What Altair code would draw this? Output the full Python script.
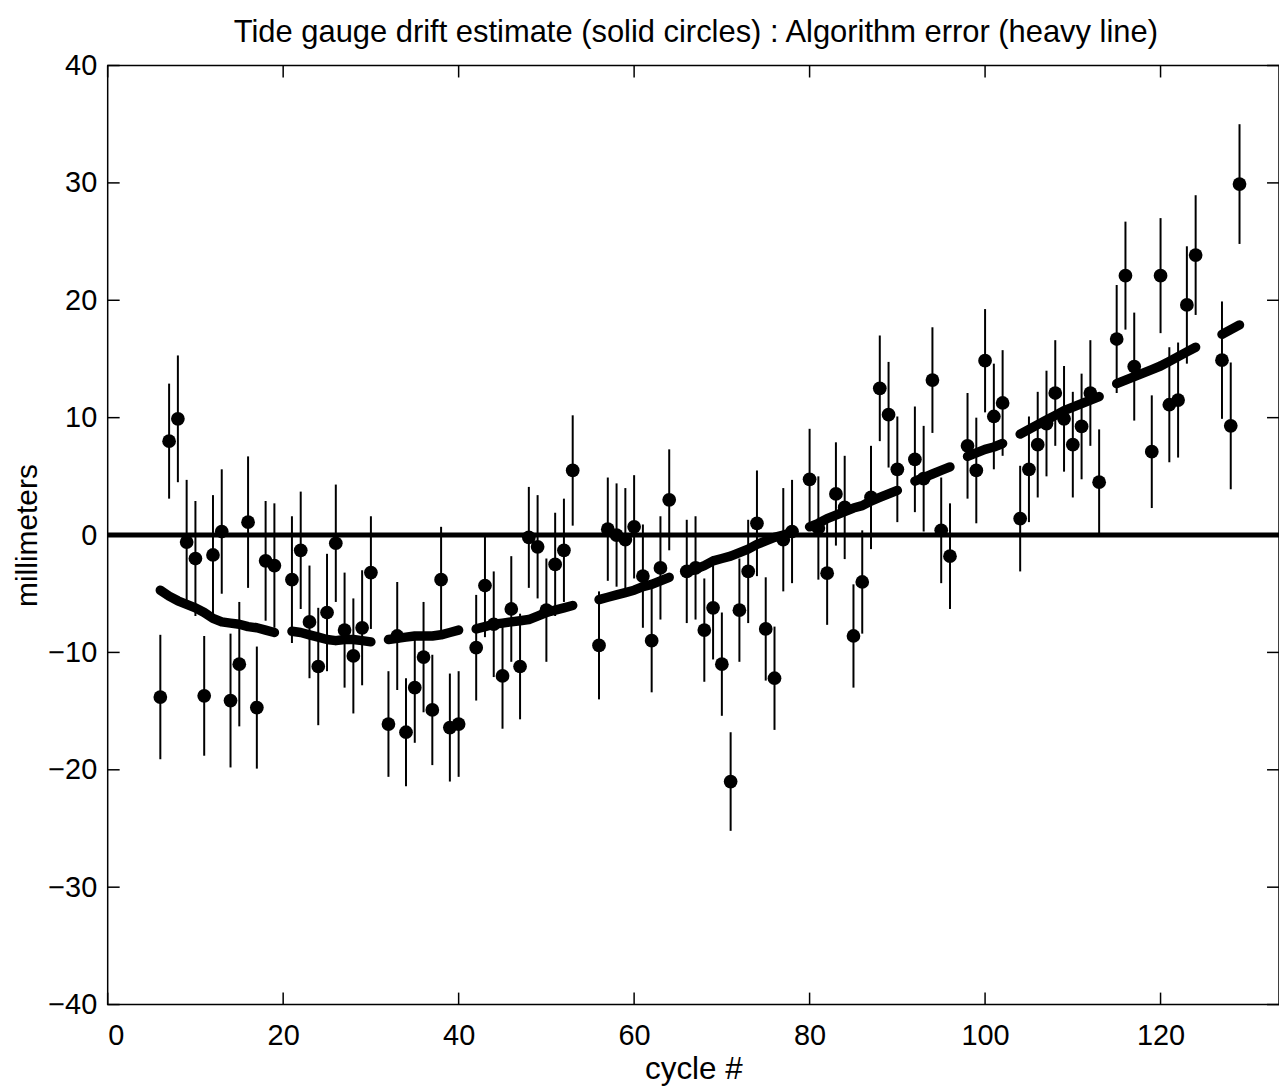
import altair as alt
import pandas as pd

# Tide gauge drift estimates (solid circles) with error bars
cycles = [6, 7, 8, 9, 10, 11, 12, 13, 14, 15, 16, 17, 18, 19,
          21, 22, 23, 24, 25, 26, 27, 28, 29, 30,
          32, 33, 34, 35, 36, 37, 38, 39, 40,
          42, 43, 44, 45, 46, 47, 48, 49, 50, 51, 52, 53,
          56, 57, 58, 59, 60, 61, 62, 63, 64,
          66, 67, 68, 69, 70, 71, 72, 73, 74, 75, 76, 77, 78,
          80, 81, 82, 83, 84, 85, 86, 87, 88, 89, 90,
          92, 93, 94, 95, 96,
          98, 99, 100, 101, 102,
          104, 105, 106, 107, 108, 109, 110, 111, 112, 113,
          115, 116, 117, 119, 120, 121, 122, 123, 124,
          127, 128, 129]
drift = [-13.8, 8.0, 9.9, -0.6, -2.0, -13.7, -1.7, 0.3, -14.1, -11.0, 1.1, -14.7, -2.2, -2.6,
         -3.8, -1.3, -7.4, -11.2, -6.6, -0.7, -8.1, -10.3, -7.9, -3.2,
         -16.1, -8.6, -16.8, -13.0, -10.4, -14.9, -3.8, -16.4, -16.1,
         -9.6, -4.3, -7.6, -12.0, -6.3, -11.2, -0.2, -1.0, -6.4, -2.5, -1.3, 5.5,
         -9.4, 0.5, 0.0, -0.4, 0.7, -3.5, -9.0, -2.8, 3.0,
         -3.1, -2.8, -8.1, -6.2, -11.0, -21.0, -6.4, -3.1, 1.0, -8.0, -12.2, -0.4, 0.3,
         4.75, 0.6, -3.25, 3.5, 2.35, -8.6, -4.0, 3.2, 12.5, 10.25, 5.6,
         6.45, 4.8, 13.2, 0.4, -1.8,
         7.6, 5.5, 14.85, 10.1, 11.25,
         1.4, 5.6, 7.7, 9.5, 12.1, 9.9, 7.7, 9.25, 12.1, 4.5,
         16.7, 22.1, 14.35, 7.1, 22.1, 11.1, 11.5, 19.6, 23.85,
         14.9, 9.3, 29.9]
err = [5.3, 4.9, 5.4, 5.3, 4.9, 5.1, 5.1, 5.3, 5.7, 5.3, 5.6, 5.2, 5.1, 5.3,
       5.4, 5.0, 4.8, 5.0, 5.0, 5.0, 4.9, 4.9, 4.9, 4.8,
       4.5, 4.6, 4.6, 4.7, 4.7, 4.7, 4.5, 4.6, 4.5,
       4.5, 4.4, 4.5, 4.5, 4.5, 4.5, 4.3, 4.4, 4.4, 4.4, 4.4, 4.7,
       4.6, 4.4, 4.4, 4.4, 4.4, 4.4, 4.4, 4.4, 4.3,
       4.4, 4.4, 4.4, 4.4, 4.4, 4.2, 4.4, 4.4, 4.5, 4.4, 4.4, 4.4, 4.4,
       4.3, 4.4, 4.4, 4.4, 4.4, 4.4, 4.4, 4.4, 4.5, 4.5, 4.5,
       4.5, 4.5, 4.5, 4.5, 4.5,
       4.5, 4.5, 4.4, 4.5, 4.5,
       4.5, 4.5, 4.5, 4.5, 4.5, 4.5, 4.5, 4.5, 4.5, 4.5,
       4.6, 4.6, 4.6, 4.8, 4.9, 4.9, 4.9, 5.0, 5.1,
       5.0, 5.4, 5.1]

# Algorithm error (heavy dashed line), read per cycle
line_cycles = [6, 7, 8, 9, 10, 11, 12, 13, 14, 15, 16, 17, 18, 19,
               21, 22, 23, 24, 25, 26, 27, 28, 29, 30,
               32, 33, 34, 35, 36, 37, 38, 39, 40,
               42, 43, 44, 45, 46, 47, 48, 49, 50, 51, 52, 53,
               56, 57, 58, 59, 60, 61, 62, 63, 64,
               66, 67, 68, 69, 70, 71, 72, 73, 74, 75, 76, 77, 78,
               80, 81, 82, 83, 84, 85, 86, 87, 88, 89, 90,
               92, 93, 94, 95, 96,
               98, 99, 100, 101, 102,
               104, 105, 106, 107, 108, 109, 110, 111, 112, 113,
               115, 116, 117, 118, 119, 120, 121, 122, 123, 124,
               127, 128, 129]
line_vals = [-4.7, -5.2, -5.6, -5.9, -6.2, -6.6, -7.1, -7.4, -7.5, -7.6, -7.8, -7.9, -8.1, -8.3,
             -8.2, -8.3, -8.5, -8.7, -8.9, -9.0, -8.9, -8.9, -9.0, -9.1,
             -8.9, -8.8, -8.7, -8.6, -8.6, -8.6, -8.5, -8.3, -8.1,
             -8.0, -7.8, -7.6, -7.5, -7.4, -7.3, -7.2, -6.9, -6.6, -6.4, -6.2, -6.0,
             -5.5, -5.3, -5.1, -4.9, -4.7, -4.4, -4.2, -3.9, -3.6,
             -3.2, -2.9, -2.6, -2.2, -2.0, -1.8, -1.5, -1.2, -0.8, -0.5, -0.2, 0.0, 0.2,
             0.7, 1.0, 1.4, 1.7, 2.0, 2.3, 2.5, 2.9, 3.2, 3.5, 3.8,
             4.6, 4.9, 5.2, 5.5, 5.8,
             6.7, 7.0, 7.3, 7.5, 7.8,
             8.6, 9.0, 9.4, 9.8, 10.2, 10.6, 10.9, 11.2, 11.5, 11.8,
             12.9, 13.2, 13.5, 13.8, 14.1, 14.4, 14.8, 15.2, 15.6, 16.0,
             17.1, 17.5, 17.9]

x_ticks = [0, 20, 40, 60, 80, 100, 120]
y_ticks = [-40, -30, -20, -10, 0, 10, 20, 30, 40]
title_text = ["Tide gauge drift estimate (solid circles) : Algorithm error (heavy line)"]

W, H = 1175, 942
FONT = "Liberation Sans"

pts = pd.DataFrame({"cycle": cycles, "mm": drift, "err": err})
pts["lo"] = pts["mm"] - pts["err"]
pts["hi"] = pts["mm"] + pts["err"]

seg = []
s = 0
for i, c in enumerate(line_cycles):
    if i > 0 and c - line_cycles[i - 1] > 1:
        s += 1
    seg.append(s)
line_df = pd.DataFrame({"cycle": line_cycles, "mm": line_vals, "seg": seg})

xt = pd.DataFrame({"cycle": x_ticks})
yt = pd.DataFrame({"mm": y_ticks})

xscale = alt.Scale(domain=[0, 133.5], nice=False, zero=False)
yscale = alt.Scale(domain=[-40, 40], nice=False, zero=False)
xaxis = alt.Axis(values=x_ticks, title="cycle #", grid=False, domain=False, ticks=False,
                 tickSize=0, labelPadding=17, labelFontSize=29, titleFontSize=31.5,
                 titleFontWeight="normal", titlePadding=3, labelColor="black",
                 titleColor="black", labelFont=FONT, titleFont=FONT)
yaxis = alt.Axis(values=y_ticks, title="millimeters", grid=False, domain=False, ticks=False,
                 tickSize=0, labelPadding=11, labelFontSize=29, titleFontSize=30,
                 titleFontWeight="normal", titlePadding=5, labelColor="black",
                 titleColor="black", labelFont=FONT, titleFont=FONT)

X = lambda f="cycle": alt.X(f"{f}:Q", scale=xscale, axis=xaxis)
Y = lambda f="mm": alt.Y(f"{f}:Q", scale=yscale, axis=yaxis)

zero = alt.Chart(pd.DataFrame({"mm": [0]})).mark_rule(color="black", strokeWidth=5).encode(
    y=Y(), x=alt.value(0), x2=alt.value(W))

bars = alt.Chart(pts).mark_rule(color="black", strokeWidth=2).encode(
    x=X(), y=Y("lo"), y2="hi")

dots = alt.Chart(pts).mark_circle(color="black", size=190, opacity=1).encode(
    x=X(), y=Y())

heavy = alt.Chart(line_df).mark_line(color="black", strokeWidth=9.5, strokeCap="round",
                                     strokeJoin="round").encode(
    x=X(), y=Y(), detail="seg:N")

tb = alt.Chart(xt).mark_rule(color="black", strokeWidth=1.5).encode(
    x=X(), y=alt.value(H), y2=alt.value(H - 12))
tt = alt.Chart(xt).mark_rule(color="black", strokeWidth=1.5).encode(
    x=X(), y=alt.value(0), y2=alt.value(12))
tl = alt.Chart(yt).mark_rule(color="black", strokeWidth=1.5).encode(
    y=Y(), x=alt.value(0), x2=alt.value(12))
tr = alt.Chart(yt).mark_rule(color="black", strokeWidth=1.5).encode(
    y=Y(), x=alt.value(W), x2=alt.value(W - 12))

title = alt.Chart(pd.DataFrame({"t": title_text})).mark_text(
    font=FONT, fontSize=31, color="black", align="center", baseline="alphabetic"
).encode(text="t:N", x=alt.value(590), y=alt.value(-24))

chart = alt.layer(zero, bars, heavy, dots, tb, tt, tl, tr, title).properties(
    width=W, height=H,
    padding={"left": 100, "top": 56, "right": 0, "bottom": 80},
    autosize=alt.AutoSizeParams(type="none"),
    background="white",
).configure_view(stroke="black", strokeWidth=1.5)

chart.save("out.html", embed_options={"renderer": "svg", "actions": False})
